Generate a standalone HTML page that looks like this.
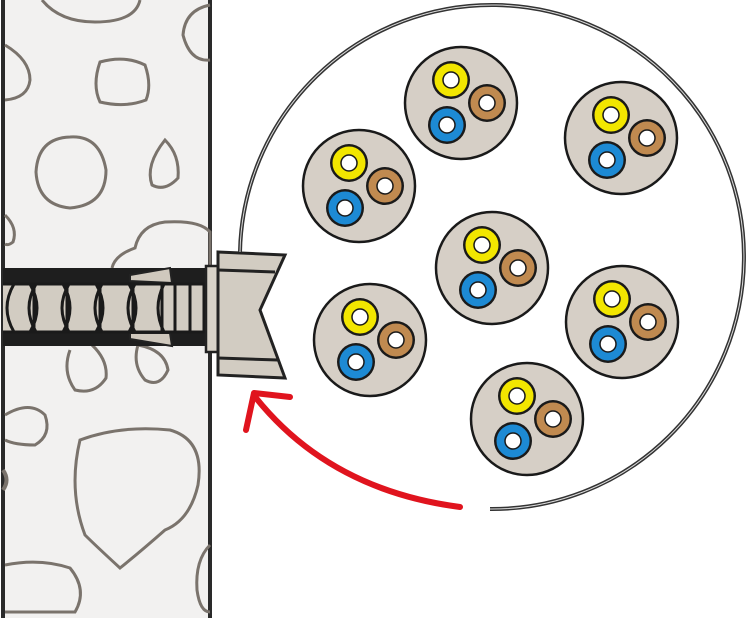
<!DOCTYPE html>
<html><head><style>body{margin:0;background:#fff}svg{display:block}</style></head>
<body>
<svg width="750" height="618" viewBox="0 0 750 618" xmlns="http://www.w3.org/2000/svg">
<!-- wall -->
<rect x="3" y="-5" width="207" height="630" fill="#f2f1f0" stroke="#2a2a2a" stroke-width="4"/>
<g fill="none" stroke="#7a736c" stroke-width="3">
<path d="M42 0 Q60 22 95 22 Q135 22 140 0"/>
<path d="M100 62 Q125 55 145 65 Q152 85 146 100 Q125 108 100 102 Q92 85 100 62Z"/>
<path d="M5 45 Q30 60 30 80 Q28 98 5 100"/>
<path d="M70 137 Q100 135 106 170 Q106 205 70 208 Q38 205 36 172 Q38 138 70 137Z"/>
<path d="M165 140 Q180 155 178 178 Q165 192 152 185 Q145 165 165 140Z"/>
<path d="M210 5 Q185 10 183 35 Q190 62 210 60"/>
<path d="M5 215 Q18 228 13 242 Q8 246 5 244"/>
<path d="M112 268 Q115 255 135 248 Q140 225 165 222 Q200 220 210 232 L210 268"/>
<path d="M92 345 Q108 360 106 378 Q95 395 75 390 Q62 372 70 350"/>
<path d="M138 345 Q165 350 168 370 Q160 388 145 380 Q132 365 138 345Z"/>
<path d="M5 415 Q30 400 45 415 Q52 435 35 445 Q15 445 5 440"/>
<path d="M80 440 Q120 425 170 430 Q205 440 198 485 Q190 520 165 530 Q140 552 120 568 Q95 545 85 535 Q68 490 80 440Z"/>
<path d="M5 565 Q40 558 70 568 Q88 590 75 612 L5 612"/>
<path d="M210 545 Q195 560 197 590 Q200 612 210 612"/>
<path d="M3 470 Q10 480 3 490" stroke-width="4"/>
</g>
<!-- anchor band -->
<rect x="3" y="268" width="210" height="78" fill="#1e1e1e"/>
<polygon points="130,275 170,268 172,283 130,281" fill="#cfc8bd" stroke="#222" stroke-width="2"/>
<polygon points="130,333 170,333 172,346 130,339" fill="#cfc8bd" stroke="#222" stroke-width="2"/>
<rect x="3" y="284" width="204" height="48" fill="#d2ccc2"/>
<g fill="none" stroke="#1a1a1a" stroke-width="3">
<path d="M3 284 L207 284 M3 332 L207 332"/>
<path d="M14 284 Q0 308 14 332"/>
<path d="M34 284 L34 332 M36 284 Q22 308 36 332 M30 284 Q44 308 30 332"/>
<path d="M67 284 L67 332 M69 284 Q55 308 69 332 M63 284 Q77 308 63 332"/>
<path d="M100 284 L100 332 M102 284 Q88 308 102 332 M96 284 Q110 308 96 332"/>
<path d="M133 284 L133 332 M135 284 Q121 308 135 332 M129 284 Q143 308 129 332"/>
<path d="M162 284 L162 332 M164 284 Q152 308 164 332"/>
<line x1="175" y1="284" x2="175" y2="332"/><line x1="190" y1="284" x2="190" y2="332"/>
<line x1="204" y1="284" x2="204" y2="332"/>
</g>
<!-- plug head -->
<rect x="206" y="266" width="12" height="86" fill="#d8d2c8" stroke="#222" stroke-width="2.5"/>
<path d="M218 252 L285 255 L260 310 L285 378 L218 375Z" fill="#d2ccc2" stroke="#222" stroke-width="3"/>
<line x1="218" y1="270" x2="275" y2="272" stroke="#222" stroke-width="3"/>
<line x1="218" y1="358" x2="278" y2="360" stroke="#222" stroke-width="3"/>
<!-- big circle -->
<path d="M240 252 A252 252 0 1 1 490 509" fill="none" stroke="#333" stroke-width="4"/>
<path d="M240 252 A252 252 0 1 1 490 509" fill="none" stroke="#ddd" stroke-width="1"/>
<!-- red arrow -->
<path d="M460 507 Q330 490 256 398" fill="none" stroke="#e0141e" stroke-width="6" stroke-linecap="round"/>
<path d="M290 397 L254 393 L246 430" fill="none" stroke="#e0141e" stroke-width="6" stroke-linecap="round" stroke-linejoin="round"/>
<!-- cables -->
<defs>
<g id="c">
<circle r="56" fill="#d6cfc6" stroke="#1a1a1a" stroke-width="2.5"/>
<circle cx="-10" cy="-23" r="19" fill="#1a1a1a"/>
<circle cx="-10" cy="-23" r="12.5" fill="none" stroke="#f2e600" stroke-width="8"/>
<circle cx="-10" cy="-23" r="8" fill="#fff" stroke="#1a1a1a" stroke-width="1.5"/>
<circle cx="26" cy="0" r="19" fill="#1a1a1a"/>
<circle cx="26" cy="0" r="12.5" fill="none" stroke="#c08a50" stroke-width="8"/>
<circle cx="26" cy="0" r="8" fill="#fff" stroke="#1a1a1a" stroke-width="1.5"/>
<circle cx="-14" cy="22" r="19" fill="#1a1a1a"/>
<circle cx="-14" cy="22" r="12.5" fill="none" stroke="#1d8ad4" stroke-width="8"/>
<circle cx="-14" cy="22" r="8" fill="#fff" stroke="#1a1a1a" stroke-width="1.5"/>
</g>
</defs>
<use href="#c" x="461" y="103"/>
<use href="#c" x="359" y="186"/>
<use href="#c" x="621" y="138"/>
<use href="#c" x="492" y="268"/>
<use href="#c" x="370" y="340"/>
<use href="#c" x="622" y="322"/>
<use href="#c" x="527" y="419"/>
</svg>
</body></html>
